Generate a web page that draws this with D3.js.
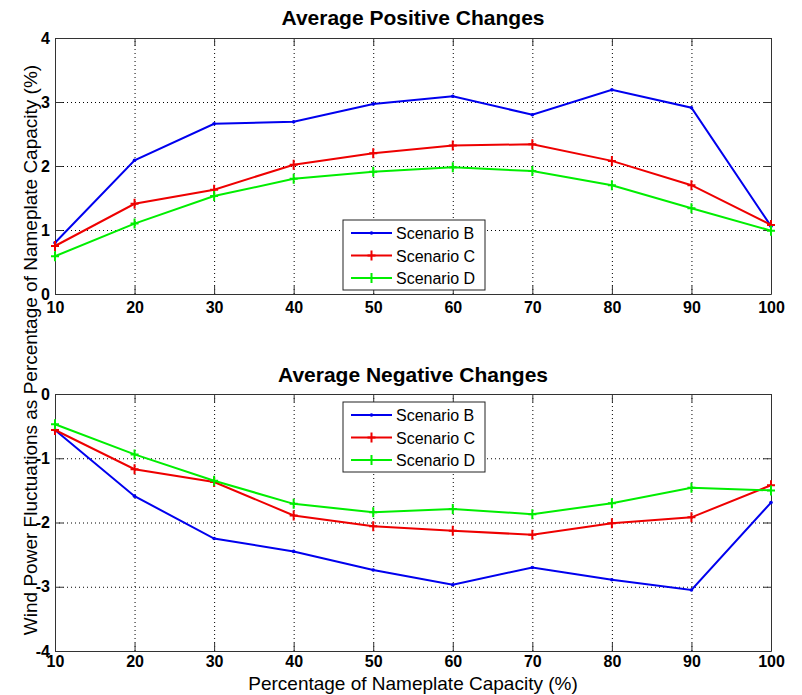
<!DOCTYPE html>
<html lang="en">
<head>
<meta charset="utf-8">
<title>Average Positive / Negative Changes</title>
<script src="https://cdn.jsdelivr.net/npm/d3@7"></script>
<style>
  body { margin: 0; background: #fff; }
  svg { display: block; font-family: "Liberation Sans", Arial, Helvetica, sans-serif; }
  .tick text { font-size: 16px; font-weight: bold; fill: #000; }
  .frame path.domain, .frame .tick line { stroke: #333; }
  .grid .tick line { stroke: #000; stroke-dasharray: 1,3; }
  .grid path.domain { display: none; }
</style>
</head>
<body>
<script>
// x values (percentage of nameplate capacity)
var capacity = [10, 20, 30, 40, 50, 60, 70, 80, 90, 100];

// average positive changes
var posB = [0.80, 2.09, 2.66, 2.69, 2.97, 3.09, 2.80, 3.19, 2.91, 1.06];
var posC = [0.75, 1.41, 1.63, 2.02, 2.20, 2.32, 2.34, 2.08, 1.70, 1.08];
var posD = [0.59, 1.10, 1.53, 1.80, 1.91, 1.98, 1.92, 1.70, 1.34, 0.99];

// average negative changes
var negB = [-0.56, -1.59, -2.25, -2.45, -2.74, -2.97, -2.70, -2.89, -3.05, -1.69];
var negC = [-0.56, -1.17, -1.37, -1.89, -2.06, -2.13, -2.19, -2.01, -1.92, -1.42];
var negD = [-0.47, -0.94, -1.35, -1.71, -1.84, -1.79, -1.87, -1.70, -1.46, -1.50];

var scenarios = ["Scenario B", "Scenario C", "Scenario D"];
var colors = ["#0000ee", "#ee0000", "#00ee00"];
var markers = ["dot", "plus", "plus"];
var posTicks = [0, 1, 2, 3, 4];
var negTicks = [-4, -3, -2, -1, 0];

var width = 802, height = 695;
var left = 55, right = 771;

var svg = d3.select("body").append("svg")
  .attr("width", width)
  .attr("height", height);

var x = d3.scaleLinear().domain([10, 100]).range([left, right]);

// plain hyphen minus like the original, no decimals
var fmt = function(d) { return String(d); };

function panel(top, bottom, domain, ticks, series, title, titleY, legendY, labelPad) {
  var y = d3.scaleLinear().domain(domain).range([bottom, top]);
  var h = bottom - top;
  var g = svg.append("g");

  // dotted grid
  g.append("g").attr("class", "grid")
    .attr("transform", "translate(0," + bottom + ")")
    .call(d3.axisBottom(x).tickValues(capacity.slice(1, -1)).tickSize(-h).tickFormat(""));
  g.append("g").attr("class", "grid")
    .attr("transform", "translate(" + left + ",0)")
    .call(d3.axisLeft(y).tickValues(ticks.slice(1, -1)).tickSize(-(right - left)).tickFormat(""));

  // box with inward ticks
  g.append("g").attr("class", "frame")
    .attr("transform", "translate(0," + bottom + ")")
    .call(d3.axisBottom(x).tickValues(capacity).tickSize(-8).tickSizeOuter(0).tickPadding(labelPad).tickFormat(fmt));
  g.append("g").attr("class", "frame")
    .attr("transform", "translate(0," + top + ")")
    .call(d3.axisTop(x).tickValues(capacity).tickSize(-8).tickSizeOuter(0).tickFormat(""));
  g.append("g").attr("class", "frame")
    .attr("transform", "translate(" + left + ",0)")
    .call(d3.axisLeft(y).tickValues(ticks).tickSize(-8).tickSizeOuter(0).tickPadding(5).tickFormat(fmt));
  g.append("g").attr("class", "frame")
    .attr("transform", "translate(" + right + ",0)")
    .call(d3.axisRight(y).tickValues(ticks).tickSize(-8).tickSizeOuter(0).tickFormat(""));

  var line = d3.line()
    .x(function(d, i) { return x(capacity[i]); })
    .y(function(d) { return y(d); });

  series.forEach(function(s, k) {
    g.append("path")
      .attr("d", line(s))
      .attr("fill", "none")
      .attr("stroke", colors[k])
      .attr("stroke-width", 2);
    g.selectAll(null).data(s).enter().each(function(d, i) {
      drawMarker(g, x(capacity[i]), y(d), k);
    });
  });

  g.append("text")
    .attr("x", (left + right) / 2)
    .attr("y", titleY)
    .attr("text-anchor", "middle")
    .style("font-size", "21px")
    .style("font-weight", "bold")
    .text(title);

  // legend
  var lg = g.append("g").attr("transform", "translate(343," + legendY + ")");
  lg.append("rect")
    .attr("width", 142).attr("height", 70)
    .attr("fill", "#fff").attr("stroke", "#222").attr("stroke-width", 1);
  scenarios.forEach(function(name, k) {
    var ry = 13 + k * 22.5;
    lg.append("line")
      .attr("x1", 8).attr("x2", 49).attr("y1", ry).attr("y2", ry)
      .attr("stroke", colors[k]).attr("stroke-width", 2);
    drawMarker(lg, 28.5, ry, k);
    lg.append("text")
      .attr("x", 53).attr("y", ry + 6)
      .style("font-size", "16px")
      .text(name);
  });
}

function drawMarker(g, cx, cy, k) {
  if (markers[k] == "dot") {
    g.append("circle").attr("cx", cx).attr("cy", cy).attr("r", 1.8).attr("fill", colors[k]);
  } else {
    g.append("path")
      .attr("d", "M" + (cx - 4) + "," + cy + "H" + (cx + 4) + "M" + cx + "," + (cy - 5) + "V" + (cy + 5))
      .attr("stroke", colors[k]).attr("stroke-width", 2);
  }
}

panel(38, 294, [0, 4], posTicks, [posB, posC, posD], "Average Positive Changes", 25, 220, 8);
panel(394, 651, [-4, 0], negTicks, [negB, negC, negD], "Average Negative Changes", 382, 402, 5);

svg.append("text")
  .attr("x", (left + right) / 2)
  .attr("y", 690)
  .attr("text-anchor", "middle")
  .style("font-size", "19px")
  .text("Percentage of Nameplate Capacity (%)");

svg.append("text")
  .attr("transform", "translate(37,350) rotate(-90)")
  .attr("text-anchor", "middle")
  .style("font-size", "19px")
  .text("Wind Power Fluctuations as Percentage of Nameplate Capacity (%)");
</script>
</body>
</html>
